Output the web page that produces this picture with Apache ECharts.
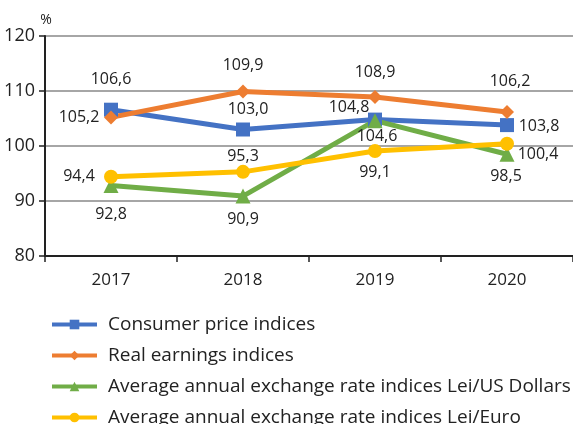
<!DOCTYPE html>
<html>
<head>
<meta charset="utf-8">
<script src="https://cdn.jsdelivr.net/npm/echarts@6/dist/echarts.min.js"></script>
<style>
  html, body { margin: 0; padding: 0; background: #fff; }
  #chart { width: 573px; height: 424px; }
</style>
</head>
<body>
<div id="chart"></div>
<script>
// categories and values
var years = ['2017', '2018', '2019', '2020'];
var cpi = [106.6, 103.0, 104.8, 103.8];
var earnings = [105.2, 109.9, 108.9, 106.2];
var leiUsd = [92.8, 90.9, 104.6, 98.5];
var leiEur = [94.4, 95.3, 99.1, 100.4];
var yTicks = [80, 90, 100, 110, 120];

var names = [
    'Consumer price indices',
    'Real earnings indices',
    'Average annual exchange rate indices Lei/US Dollars',
    'Average annual exchange rate indices Lei/Euro'
];
var colors = ['#4472C4', '#ED7D31', '#70AD47', '#FFC000'];
var symbols = ['rect', 'diamond', 'triangle', 'circle'];

// where each value label sits relative to its point (style only)
var labelOffsets = [
    [[0, -30], [5, -20], [-26, -12], [32, 1]],
    [[-32, 0], [0, -26], [0, -25], [3, -30]],
    [[0, 29], [0, 23], [2, 16], [-1, 22]],
    [[-32, 0], [0, -15], [0, 21], [31, 11]]
];

var FONT = 'Open Sans';

function fmt(v) {
    return v.toFixed(1).replace('.', ',');
}

function makeSeries(idx, values) {
    return {
        name: names[idx],
        type: 'line',
        data: values.map(function (v, i) {
            return {
                value: v,
                label: { offset: labelOffsets[idx][i] }
            };
        }),
        symbol: symbols[idx],
        symbolSize: idx == 2 ? 15 : 14,
        lineStyle: { width: 5, color: colors[idx] },
        itemStyle: { color: colors[idx] },
        label: {
            show: true,
            position: 'inside',
            fontFamily: FONT,
            fontSize: 16,
            color: '#222',
            formatter: function (p) { return fmt(p.value); }
        }
    };
}

var myChart = echarts.init(document.getElementById('chart'), null, { renderer: 'canvas' });

var option = {
    animation: false,
    textStyle: { fontFamily: FONT },
    grid: {
        left: 45,
        top: 36,
        width: 532,
        height: 220,
        containLabel: false
    },
    legend: {
        orient: 'vertical',
        left: 50,
        top: 315,
        height: 130,
        padding: 0,
        itemGap: 12,
        itemWidth: 45,
        itemHeight: 12,
        lineStyle: { width: 4 },
        textStyle: { fontFamily: FONT, fontSize: 19, lineHeight: 16, color: '#222', padding: [0, 0, 0, 6] },
        data: names
    },
    xAxis: {
        type: 'category',
        data: years,
        boundaryGap: true,
        axisLine: { lineStyle: { color: '#222', width: 2 } },
        axisTick: { show: true, length: 6, lineStyle: { color: '#222', width: 1.5 } },
        axisLabel: { fontFamily: FONT, fontSize: 17, color: '#222', margin: 16 },
        splitLine: { show: false }
    },
    yAxis: {
        type: 'value',
        min: yTicks[0],
        max: yTicks[yTicks.length - 1],
        interval: 10,
        name: '%',
        nameLocation: 'end',
        nameGap: 8,
        nameTextStyle: { fontFamily: FONT, fontSize: 14, color: '#222', align: 'center', padding: [0, 0, 0, 2] },
        axisLine: { show: true, lineStyle: { color: '#222', width: 2 } },
        axisTick: { show: true, inside: false, length: 6, lineStyle: { color: '#222', width: 1.5 } },
        axisLabel: { fontFamily: FONT, fontSize: 18, color: '#222', margin: 10 },
        splitLine: { show: true, lineStyle: { color: '#888', width: 1.5 } }
    },
    series: [
        makeSeries(0, cpi),
        makeSeries(1, earnings),
        makeSeries(2, leiUsd),
        makeSeries(3, leiEur)
    ]
};

myChart.setOption(option);
</script>
</body>
</html>
